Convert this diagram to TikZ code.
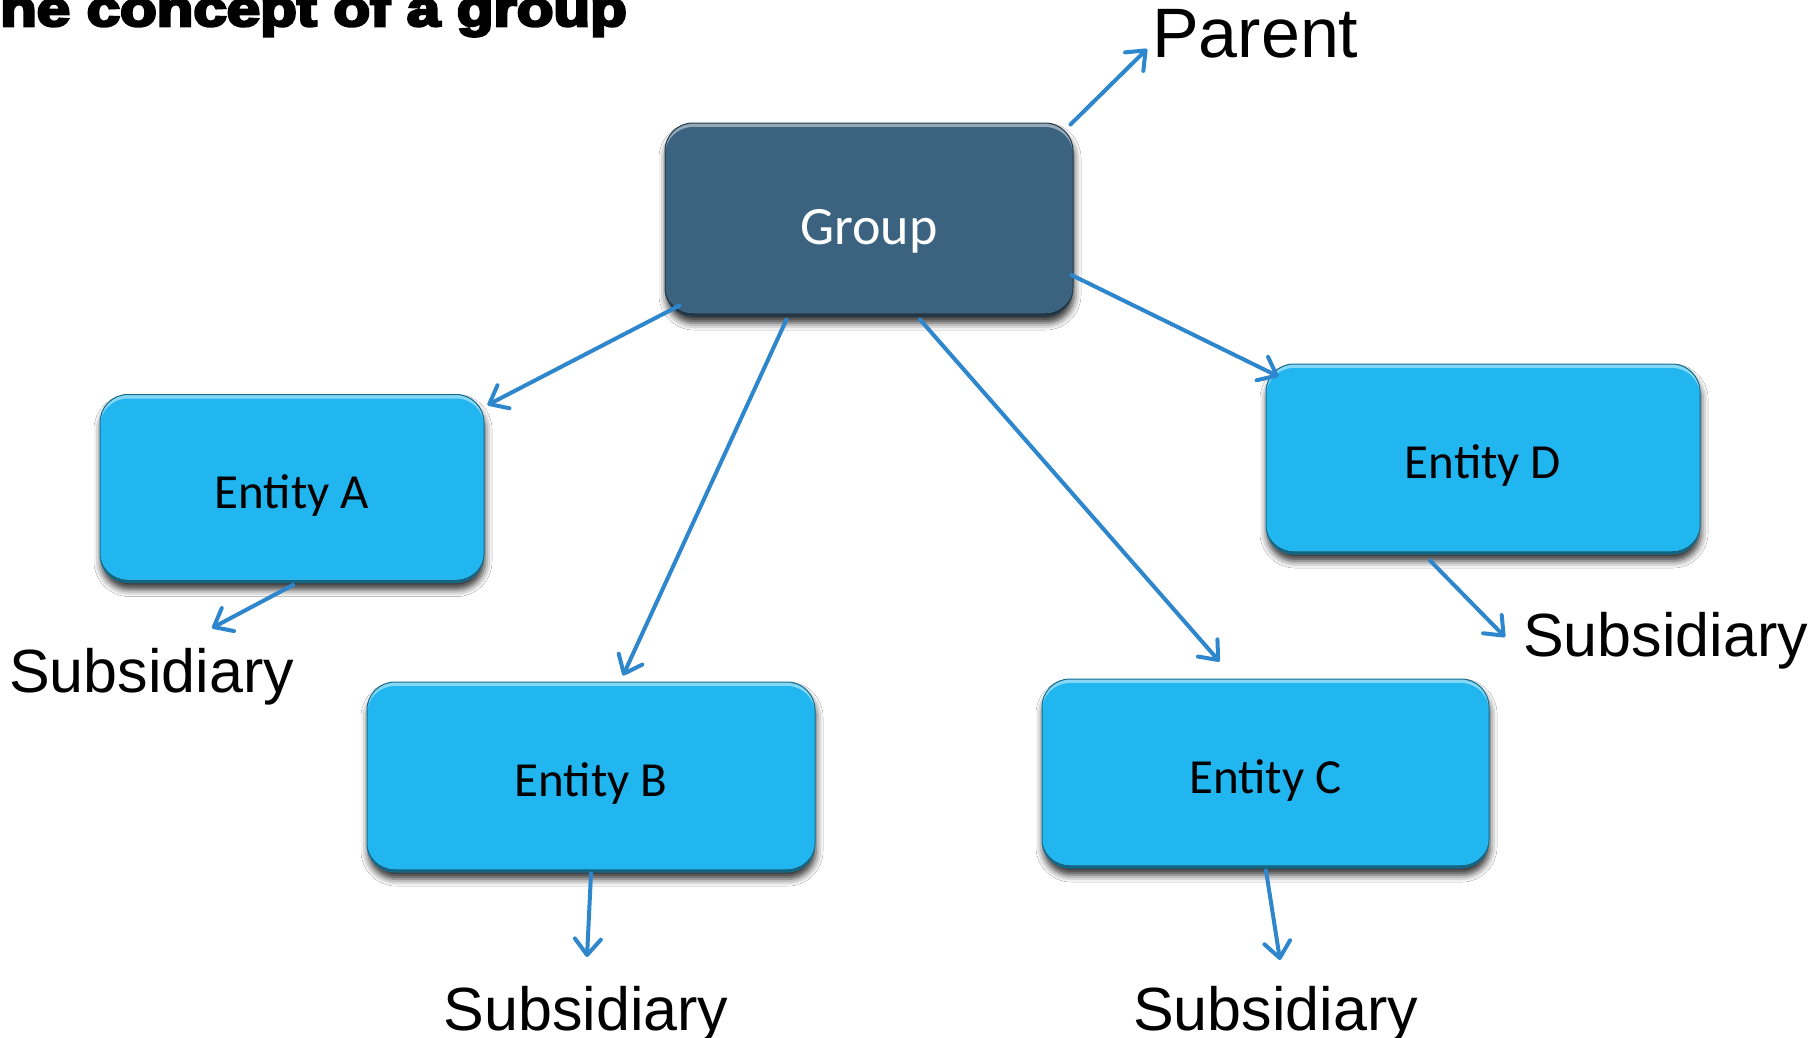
\documentclass[tikz,border=0pt]{standalone}
\usepackage{fontspec}
\setmainfont{Liberation Sans}
\newfontfamily\calib{Carlito}
\newfontfamily\heavy{Liberation Sans}[BoldFeatures={FakeBold=5}]
\usetikzlibrary{arrows.meta,shadows.blur}
\definecolor{groupfill}{HTML}{3B6380}
\definecolor{entityfill}{HTML}{21B6EF}
\definecolor{linkblue}{HTML}{2E86CC}
\begin{document}
\begin{tikzpicture}[x=1pt,y=-1pt,
  % rounded box with a light rim on top and a dark rim at the bottom
  bevel/.style={fill=#1!55!black, draw=#1!60!black, line width=1pt,
    path picture={
      \fill[#1!55!white, rounded corners=28pt]
        (path picture bounding box.north west) rectangle ([yshift=3pt]path picture bounding box.south east);
      \fill[#1, rounded corners=28pt]
        ([yshift=-4pt]path picture bounding box.north west) rectangle ([yshift=3pt]path picture bounding box.south east);
    }},
  box/.style={rounded corners=28pt, inner sep=0pt,
    blur shadow={shadow xshift=1pt, shadow yshift=-7pt, shadow blur radius=7pt, shadow opacity=80}},
  groupbox/.style={box, bevel=groupfill,
    text=white, font=\calib\fontsize{54}{56}\selectfont},
  entitybox/.style={box, bevel=entityfill,
    text=black, font=\calib\fontsize{49}{50}\selectfont},
  lbl/.style={inner sep=0pt, text=black},
  link/.style={draw=linkblue, line width=4pt, line cap=round,
    -{Straight Barb[length=16pt, width=26pt, round]}}
]
\useasboundingbox (0,0) rectangle (1820,1037);
\fill[white] (0,0) rectangle (1820,1037);

% heading
\node[lbl, anchor=base east, font=\heavy\bfseries\fontsize{50}{54}\selectfont] (title) at (627,26)
  {\scalebox{1.2}[1]{The concept of a group}};

% boxes
\node[groupbox, minimum width=408pt, minimum height=193pt] (grp) at (869,219.5)
  {\raisebox{-24.5pt}[0pt][0pt]{Group}};
\node[entitybox, minimum width=384pt, minimum height=188pt] (ea) at (292,488.5)
  {\raisebox{-19.5pt}[0pt][0pt]{Entity A}};
\node[entitybox, minimum width=448pt, minimum height=190pt] (eb) at (591,777)
  {\raisebox{-19.5pt}[0pt][0pt]{Entity B}};
\node[entitybox, minimum width=447pt, minimum height=189pt] (ec) at (1265.5,773.5)
  {\raisebox{-19.5pt}[0pt][0pt]{Entity C}};
\node[entitybox, minimum width=434pt, minimum height=190pt] (ed) at (1483,459)
  {\raisebox{-19.5pt}[0pt][0pt]{Entity D}};

% free labels
\node[lbl, anchor=base west, font=\fontsize{70}{72}\selectfont] (par) at (1152,57) {Parent};
\node[lbl, anchor=base west, font=\fontsize{61}{64}\selectfont] (sa) at (9,692) {Subsidiary};
\node[lbl, anchor=base, font=\fontsize{61}{64}\selectfont] (sb) at (586,1030) {Subsidiary};
\node[lbl, anchor=base, font=\fontsize{61}{64}\selectfont] (sc) at (1275.5,1030) {Subsidiary};
\node[lbl, anchor=base west, font=\fontsize{61}{64}\selectfont] (sd) at (1523,656) {Subsidiary};

% connectors
\draw[link] ([shift={(-3,2)}]grp.north east) -- ([shift={(-5,-8)}]par.base west);
\draw[link] ([shift={(15,-11)}]grp.south west) -- ([shift={(3,11)}]ea.north east);
\draw[link] ([shift={(122,3)}]grp.south west) -- ([shift={(32,-6)}]eb.north);
\draw[link] ([shift={(51,3)}]grp.south) -- ([shift={(-46,-17)}]ec.north);
\draw[link] ([shift={(-2,55.5)}]grp.east) -- ([shift={(13,13)}]ed.north west);
\draw[link] ([shift={(1,2)}]ea.south) -- ([shift={(203,-64)}]sa.base west);
\draw[link] ([shift={(0,1)}]eb.south) -- ([shift={(1,-73)}]sb.base);
\draw[link] ([shift={(0.5,2)}]ec.south) -- ([shift={(4.5,-70)}]sc.base);
\draw[link] ([shift={(-53,6)}]ed.south) -- ([shift={(-18,-19)}]sd.base west);
\end{tikzpicture}
\end{document}
